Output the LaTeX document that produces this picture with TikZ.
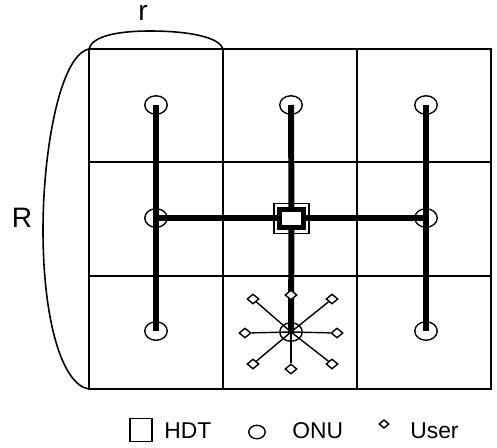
\documentclass[tikz,border=0pt]{standalone}
\usepackage{fontspec}
\setmainfont{Liberation Sans}
\usepackage{tikz}
\usetikzlibrary{shapes.geometric, backgrounds}

\tikzset{
    gridline/.style={line width=1.1pt},
    onu/.style={draw, ellipse, line width=0.8pt, inner sep=0pt, minimum width=0.45cm, minimum height=0.37cm},
    user/.style={draw, diamond, fill=white, line width=0.8pt, inner sep=0pt, minimum width=0.24cm, minimum height=0.2cm},
    feeder/.style={line width=3.4pt},
    drop/.style={line width=0.8pt}
}

\begin{document}
\begin{tikzpicture}[x=0.02cm, y=-0.02cm]
    \useasboundingbox (0,0) rectangle (497,447);

    % Cell grid
    \draw[gridline] (89,49) rectangle (491,389);
    \draw[gridline] (223,49) -- (223,389);
    \draw[gridline] (357,49) -- (357,389);
    \draw[gridline] (89,162) -- (491,162);
    \draw[gridline] (89,276) -- (491,276);

    % Size marks r and R
    \draw[line width=0.9pt] (89,49) .. controls (92,36) and (118,31) .. (150,31) .. controls (192,31) and (220,38) .. (223,49);
    \node (rlabel) at (143,13) {\fontsize{16}{18}\selectfont r};
    \draw[line width=0.9pt] (89,49) .. controls (60,55) and (43,150) .. (43,230) .. controls (43,320) and (62,385) .. (89,389);
    \node (Rlabel) at (22,218) {\fontsize{16}{18}\selectfont R};

    % ONUs
    \node[onu] (onu11) at (156,105) {};
    \node[onu] (onu12) at (291,105) {};
    \node[onu] (onu13) at (426,105) {};
    \node[onu] (onu21) at (156,218) {};
    \node[onu] (onu23) at (426,218) {};
    \node[onu] (onu31) at (156,331) {};
    \node[onu] (onu32) at (291,332) {};
    \node[onu] (onu33) at (426,331) {};

    % HDT
    \node[draw, line width=0.8pt, inner sep=0pt, minimum width=0.70cm, minimum height=0.60cm] (hdt) at (291.5,218.5) {};
    \node[draw, fill=white, line width=2.6pt, inner sep=0pt, minimum width=0.47cm, minimum height=0.37cm] (hdtin) at (291.5,218.5) {};

    % Users
    \node[user] (u1) at (291,295) {};
    \node[user] (u2) at (332,299) {};
    \node[user] (u3) at (337,333) {};
    \node[user] (u4) at (332,364) {};
    \node[user] (u5) at (291,369) {};
    \node[user] (u6) at (253,364) {};
    \node[user] (u7) at (245,333) {};
    \node[user] (u8) at (253,299) {};

    % Fibre links
    \begin{scope}[on background layer]
        \draw[feeder] (onu11.center) -- (onu31.center);
        \draw[feeder] (onu13.center) -- (onu33.center);
        \draw[feeder] (onu21.center) -- (onu23.center);
        \draw[feeder] (onu12.center) -- (hdtin);
        \draw[feeder] (hdtin) -- (onu32.center);
        \draw[drop] (onu32.center) -- (u2);
        \draw[drop] (onu32.center) -- (u3);
        \draw[drop] (onu32.center) -- (u4);
        \draw[drop] (onu32.center) -- (u5);
        \draw[drop] (onu32.center) -- (u6);
        \draw[drop] (onu32.center) -- (u7);
        \draw[drop] (onu32.center) -- (u8);
    \end{scope}

    % Legend
    \node[draw, line width=0.8pt, inner sep=0pt, minimum width=0.44cm, minimum height=0.46cm] (keyhdt) at (141,430) {};
    \node[anchor=base west, inner sep=0pt, font=\fontsize{13}{15}\selectfont] (txthdt) at (164,438) {HDT};
    \node[onu, minimum width=0.33cm, minimum height=0.27cm] (keyonu) at (257,432) {};
    \node[anchor=base west, inner sep=0pt, font=\fontsize{13}{15}\selectfont] (txtonu) at (292,438) {ONU};
    \node[user, minimum width=0.2cm, minimum height=0.17cm] (keyuser) at (384,424) {};
    \node[anchor=base west, inner sep=0pt, font=\fontsize{13}{15}\selectfont] (txtuser) at (410,438) {User};
\end{tikzpicture}
\end{document}
